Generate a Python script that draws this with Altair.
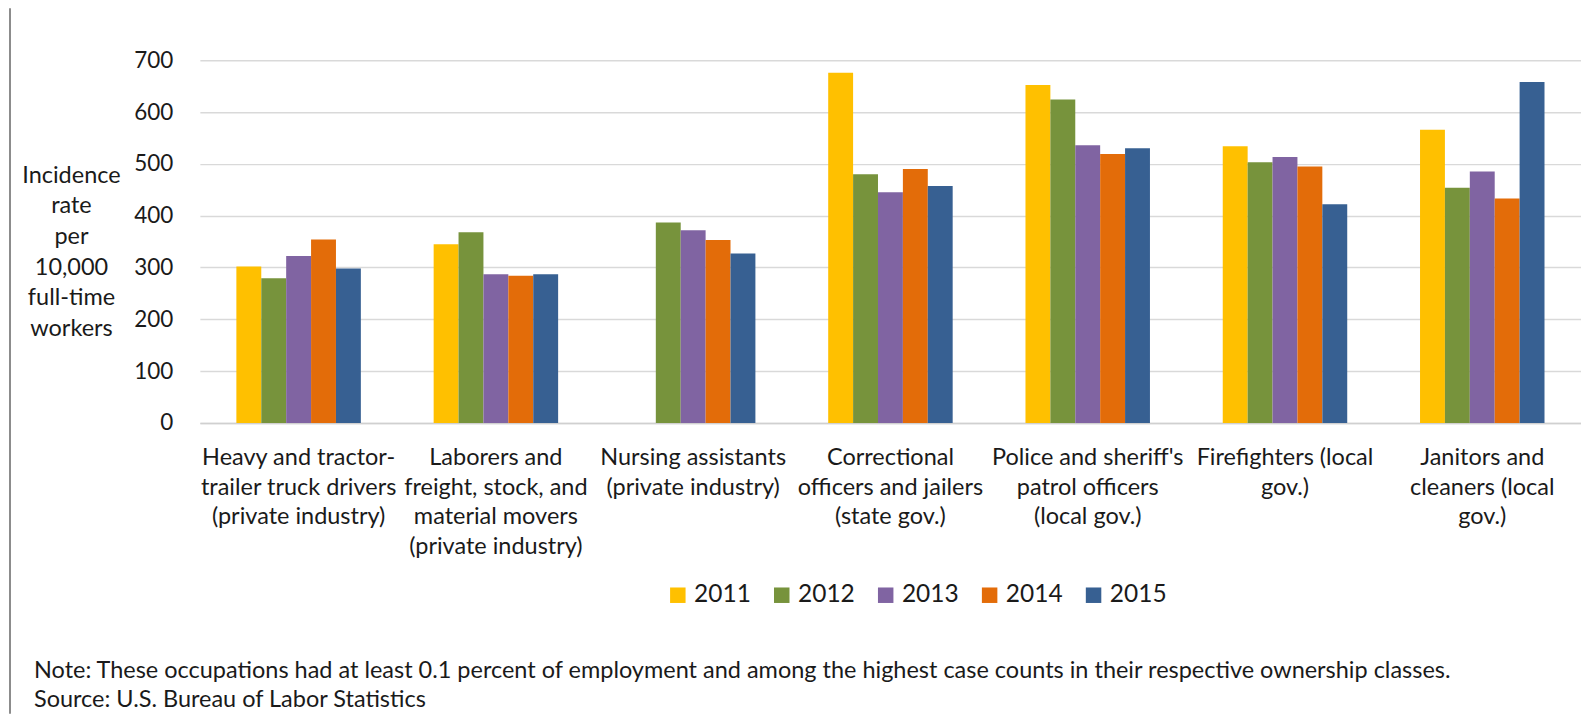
import altair as alt
import pandas as pd

categories = [
    "Heavy and tractor-\ntrailer truck drivers\n(private industry)",
    "Laborers and\nfreight, stock, and\nmaterial movers\n(private industry)",
    "Nursing assistants\n(private industry)",
    "Correctional\nofficers and jailers\n(state gov.)",
    "Police and sheriff's\npatrol officers\n(local gov.)",
    "Firefighters (local\ngov.)",
    "Janitors and\ncleaners (local\ngov.)",
]
years = ["2011", "2012", "2013", "2014", "2015"]
rates_2011 = [302, 345, None, 676, 652, 534, 566]
rates_2012 = [279, 368, 387, 480, 624, 503, 454]
rates_2013 = [322, 287, 372, 445, 536, 513, 485]
rates_2014 = [354, 284, 353, 490, 519, 495, 433]
rates_2015 = [298, 287, 327, 457, 530, 422, 658]
y_ticks = [0, 100, 200, 300, 400, 500, 600, 700]
y_title = ["Incidence", "rate", "per", "10,000", "full-time", "workers"]
note_text = "Note: These occupations had at least 0.1 percent of employment and among the highest case counts in their respective ownership classes."
source_text = "Source: U.S. Bureau of Labor Statistics"
colors = ["#FFC000", "#77933C", "#8064A2", "#E36C09", "#376092"]

rows = []
for yr, vals in zip(years, [rates_2011, rates_2012, rates_2013, rates_2014, rates_2015]):
    for cat, v in zip(categories, vals):
        if v is not None:
            rows.append({"occupation": cat, "year": yr, "rate": v})
df = pd.DataFrame(rows)

FONT = "Lato"
TXT = "#1a1a1a"

bars = alt.Chart(df).mark_bar().encode(
    x=alt.X(
        "occupation:N",
        sort=categories,
        scale=alt.Scale(paddingInner=0.369, paddingOuter=0.185),
        axis=alt.Axis(
            title=None,
            labelAngle=0,
            labelExpr="split(datum.label, '\\n')",
            labelFont=FONT,
            labelFontSize=23.5,
            labelLineHeight=29.5,
            labelBaseline="top",
            labelPadding=23,
            labelColor=TXT,
            labelLimit=0,
            ticks=False,
            tickSize=0,
            domain=True,
            domainColor="#d0d0d0",
            domainWidth=1.5,
            grid=False,
        ),
    ),
    xOffset=alt.XOffset("year:N", sort=years, scale=alt.Scale(paddingInner=0, paddingOuter=0)),
    y=alt.Y(
        "rate:Q",
        scale=alt.Scale(domain=[0, 700], nice=False),
        axis=alt.Axis(
            values=y_ticks,
            title=y_title,
            titleAngle=0,
            titleAlign="center",
            titleBaseline="middle",
            titleX=-129,
            titleY=115,
            titleFont=FONT,
            titleFontSize=23.5,
            titleFontWeight="normal",
            titleLineHeight=30.7,
            titleColor=TXT,
            labelFont=FONT,
            labelFontSize=22.5,
            labelColor=TXT,
            labelPadding=27,
            ticks=False,
            tickSize=0,
            domain=False,
            grid=True,
            gridColor="#d9d9d9",
            gridWidth=1.5,
        ),
    ),
    color=alt.Color(
        "year:N",
        sort=years,
        scale=alt.Scale(domain=years, range=colors),
        legend=alt.Legend(
            title=None,
            orient="none",
            direction="horizontal",
            legendX=466,
            legendY=523,
            symbolType="square",
            symbolSize=240,
            symbolStrokeWidth=0,
            symbolOpacity=1,
            labelFont=FONT,
            labelFontSize=24.5,
            labelColor=TXT,
            labelOffset=4,
            columnPadding=18,
            padding=0,
        ),
    ),
)

note = alt.Chart(alt.Data(values=[{"t": note_text}])).mark_text(
    align="left", baseline="middle", font=FONT, fontSize=23.5, color=TXT
).encode(text="t:N", x=alt.value(-166), y=alt.value(611))

source = alt.Chart(alt.Data(values=[{"t": source_text}])).mark_text(
    align="left", baseline="middle", font=FONT, fontSize=23.5, color=TXT
).encode(text="t:N", x=alt.value(-166), y=alt.value(640))

border = alt.Chart(alt.Data(values=[{"k": 1}])).mark_rule(color="#8c8c8c", strokeWidth=2).encode(
    x=alt.value(-190), y=alt.value(-52), y2=alt.value(654)
)

chart = alt.layer(bars, note, source, border).properties(
    width=1382,
    height=363,
    autosize=alt.AutoSizeParams(type="none"),
    padding={"left": 192, "top": 52, "right": 0, "bottom": 291},
).configure_view(stroke=None)

chart.save("out.html", embed_options={"renderer": "svg", "actions": False})
